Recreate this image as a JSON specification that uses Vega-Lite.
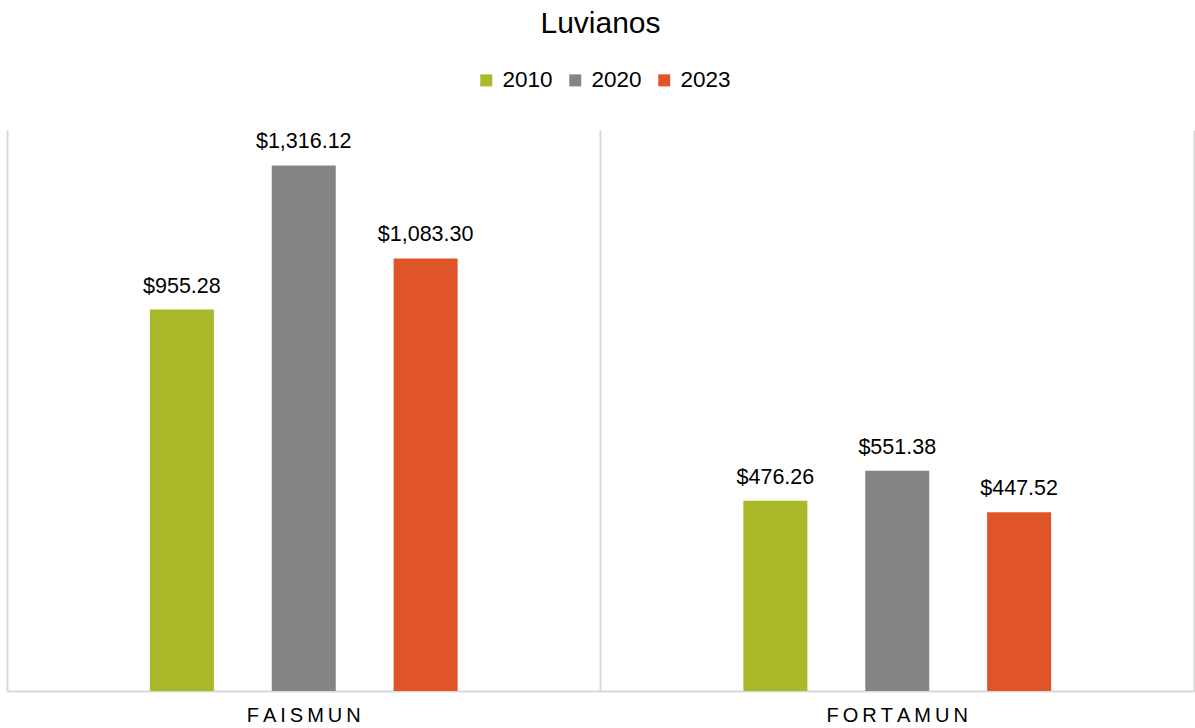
{
  "$schema": "https://vega.github.io/schema/vega-lite/v6.json",
  "width": 1187,
  "height": 561,
  "autosize": {"type": "none"},
  "padding": {"left": 7, "top": 130, "right": 1, "bottom": 37},
  "background": "white",
  "title": {"text": "Luvianos", "font": "Liberation Sans", "fontSize": 30, "fontWeight": "normal", "color": "#000000", "anchor": "middle", "offset": 30},
  "data": {"values": [
    {"fondo": "FAISMUN", "anio": "2010", "valor": 955.28},
    {"fondo": "FAISMUN", "anio": "2020", "valor": 1316.12},
    {"fondo": "FAISMUN", "anio": "2023", "valor": 1083.30},
    {"fondo": "FORTAMUN", "anio": "2010", "valor": 476.26},
    {"fondo": "FORTAMUN", "anio": "2020", "valor": 551.38},
    {"fondo": "FORTAMUN", "anio": "2023", "valor": 447.52}
  ]},
  "config": {
    "view": {"stroke": null},
    "font": "Liberation Sans"
  },
  "encoding": {
    "x": {"field": "fondo", "type": "nominal", "title": null,
      "scale": {"paddingInner": 0, "paddingOuter": 0},
      "axis": {"labelAngle": 0, "labelFont": "Liberation Sans", "labelFontSize": 20, "labelColor": "#000000", "labelPadding": 14,
        "labelExpr": "join(split(datum.label, ''), '\u2009')",
        "ticks": false, "domainColor": "#d9d9d9", "domainWidth": 2, "grid": true, "gridColor": "#d9d9d9", "gridWidth": 2, "bandPosition": 1}},
    "xOffset": {"field": "anio", "type": "nominal", "scale": {"paddingInner": 0, "paddingOuter": 0.935}},
    "y": {"field": "valor", "type": "quantitative", "title": null,
      "scale": {"domain": [0, 1405]},
      "axis": {"labels": false, "ticks": false, "grid": false, "domain": true, "domainColor": "#d9d9d9", "domainWidth": 2}}
  },
  "layer": [
    {"mark": {"type": "bar", "width": 64},
     "encoding": {"color": {"field": "anio", "type": "nominal", "title": null,
        "scale": {"domain": ["2010", "2020", "2023"], "range": ["#A9B92A", "#858585", "#E0542A"]},
        "legend": {"orient": "none", "legendX": 468, "legendY": -61, "direction": "horizontal", "symbolType": "square", "symbolSize": 144, "symbolStrokeWidth": 0, "padding": 0,
          "labelFont": "Liberation Sans", "labelFontSize": 22.5, "labelColor": "#000000", "columnPadding": 11, "labelOffset": 5}}}},
    {"mark": {"type": "text", "baseline": "alphabetic", "dy": -17, "font": "Liberation Sans", "fontSize": 21.5, "color": "#000000"},
     "encoding": {"text": {"field": "valor", "type": "quantitative", "format": "$,.2f"}}}
  ]
}
